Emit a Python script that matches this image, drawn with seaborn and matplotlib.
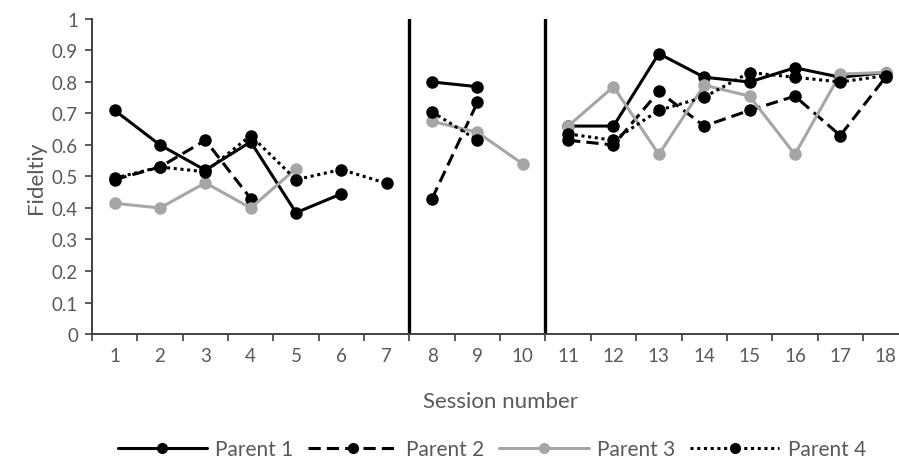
import numpy as np
import pandas as pd
import matplotlib
matplotlib.use("Agg")
import matplotlib.pyplot as plt
from matplotlib.lines import Line2D
import seaborn as sns

nan = np.nan
sessions = list(range(1, 19))
# phase blocks: baseline 1-7, 8-10, 11-18
blocks = [1] * 7 + [2] * 3 + [3] * 8

parent1 = [0.71, 0.60, 0.52, 0.61, 0.385, 0.445, nan, 0.80, 0.785, nan,
           0.66, 0.66, 0.89, 0.815, 0.80, 0.845, 0.815, 0.83]
parent2 = [0.49, 0.53, 0.615, 0.43, nan, nan, nan, 0.43, 0.735, nan,
           0.615, 0.60, 0.77, 0.66, 0.71, 0.755, 0.63, 0.815]
parent3 = [0.415, 0.40, 0.48, 0.40, 0.525, nan, nan, 0.675, 0.64, 0.54,
           0.66, 0.785, 0.57, 0.79, 0.755, 0.57, 0.825, 0.83]
parent4 = [0.495, 0.53, 0.515, 0.63, 0.49, 0.522, 0.478, 0.705, 0.615, nan,
           0.635, 0.615, 0.71, 0.752, 0.83, 0.815, 0.80, 0.82]

names = ["Parent 1", "Parent 2", "Parent 3", "Parent 4"]
series = [parent1, parent2, parent3, parent4]
colors = ["black", "black", "#a6a6a6", "black"]
styles = ["-", (0, (4, 2)), "-", (0, (1, 1.2))]
phase_lines = [7.5, 10.5]

sns.set_style("white")
plt.rcParams["font.family"] = ["Lato", "DejaVu Sans"]

fig = plt.figure(figsize=(8.99, 4.64), dpi=100)
ax = fig.add_axes([0.1023, 0.278, 0.908, 0.679])

for name, vals, c, ls in zip(names, series, colors, styles):
    df = pd.DataFrame({"session": sessions, "fidelity": vals, "block": blocks}).dropna()
    sns.lineplot(data=df, x="session", y="fidelity", units="block", estimator=None,
                 color=c, linestyle=ls, linewidth=2.2, marker="o", markersize=9,
                 markeredgewidth=0, ax=ax, legend=False, zorder=3)

for xv in phase_lines:
    ax.axvline(xv, color="black", linewidth=2.4, zorder=2)

ax.set_xlim(0.5, 18.5)
ax.set_ylim(0, 1)
ax.set_yticks(np.arange(0, 1.01, 0.1))
ax.set_yticklabels(["0"] + [f"{v:.1f}" for v in np.arange(0.1, 0.95, 0.1)] + ["1"])
ax.set_xticks(sessions)
ax.set_xticks(np.arange(0.5, 18.6, 1), minor=True)
ax.tick_params(axis="x", which="major", length=0, pad=9, labelsize=13.5, labelcolor="#595959")
ax.tick_params(axis="x", which="minor", length=5, width=1.2, color="#404040", direction="out")
ax.tick_params(axis="y", length=5, width=1.2, color="#404040", direction="out",
               labelsize=13.5, labelcolor="#595959", pad=5)
ax.xaxis.set_ticks_position("bottom")
ax.yaxis.set_ticks_position("left")

for side in ["top", "right"]:
    ax.spines[side].set_visible(False)
for side in ["left", "bottom"]:
    ax.spines[side].set_color("#404040")
    ax.spines[side].set_linewidth(1.4)

ax.set_xlabel("Session number", fontsize=16, color="#595959", labelpad=20)
ax.set_ylabel("Fideltiy", fontsize=16, color="#595959", labelpad=4)

handles = [Line2D([0], [0], color=c, linestyle=ls, linewidth=2.2, marker="o",
                  markersize=8, markeredgewidth=0)
           for c, ls in zip(colors, styles)]
fig.legend(handles, names, loc="lower center", bbox_to_anchor=(0.547, -0.032), ncol=4,
           frameon=False, fontsize=15, handlelength=4.3, columnspacing=0.7,
           handletextpad=0.4, labelcolor="#595959")

fig.savefig("out.png", dpi=100)
